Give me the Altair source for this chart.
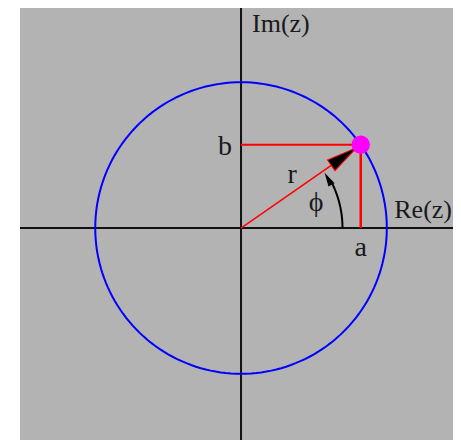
import numpy as np
import pandas as pd
import altair as alt

# values (unit = modulus of z)
a_val = [0.82]
b_val = [0.57]

x_domain = [-1.514, 1.452]
y_domain = [-1.452, 1.507]

label_text = ["Im(z)", "Re(z)", "b", "a", "r", "\u03d5"]
label_x = [0.0, 1.452, 0.0, 0.82, 0.35, 0.515]
label_y = [1.507, 0.0, 0.57, 0.0, 0.31, 0.17]
label_dx = [11, -1, -9, 0, 0, 0]
label_dy = [24, -10, 10, 28, 0, 8]
label_align = ["left", "right", "right", "center", "center", "center"]
label_size = [26, 26, 28, 28, 28, 28]

FONT = "Liberation Serif"
W, H = 433, 432

pt = pd.DataFrame({"a": a_val, "b": b_val})
r_mod = float(np.hypot(a_val[0], b_val[0]))

xs = alt.Scale(domain=x_domain, nice=False, zero=False)
ys = alt.Scale(domain=y_domain, nice=False, zero=False)

def X(f, t="Q"):
    return alt.X(f"{f}:{t}", scale=xs, axis=None)

def Y(f, t="Q"):
    return alt.Y(f"{f}:{t}", scale=ys, axis=None)

base = alt.Chart(pt).transform_calculate(z="0")

# coordinate axes
xaxis = base.mark_rule(color="#111111", strokeWidth=2).encode(y=Y("z"))
yaxis = base.mark_rule(color="#111111", strokeWidth=2).encode(x=X("z"))

# circle |z| = r  (angle parameter only)
t_circle = pd.DataFrame({"t": list(range(0, 362, 2))})
circle = (
    alt.Chart(t_circle)
    .transform_calculate(
        cx=f"{r_mod}*cos(datum.t*PI/180)", cy=f"{r_mod}*sin(datum.t*PI/180)"
    )
    .mark_line(color="#0000ff", strokeWidth=2)
    .encode(x=X("cx"), y=Y("cy"), order="t:Q")
)

# red projections
hline = base.mark_rule(color="#ff0000", strokeWidth=2).encode(x=X("z"), x2="a:Q", y=Y("b"))
vline = base.mark_rule(color="#ff0000", strokeWidth=2.5).encode(x=X("a"), y=Y("z"), y2="b:Q")
radius = base.mark_rule(color="#ff0000", strokeWidth=1.5).encode(
    x=X("z"), y=Y("z"), x2="a:Q", y2="b:Q"
)

# arrowhead on radius vector
arrow = (
    alt.Chart(pt)
    .transform_calculate(
        ax="0.86*datum.a", ay="0.86*datum.b",
        ang="360 - atan2(datum.b, datum.a)*180/PI",
    )
    .mark_point(
        shape="M1,0 L-1,-0.42 L-1,0.42 Z", filled=True, fill="black",
        stroke="#ff0000", strokeWidth=1, size=961, opacity=1,
    )
    .encode(x=X("ax"), y=Y("ay"), angle=alt.Angle("ang:Q", scale=None))
)

# phi arc
t_arc = pd.DataFrame({"t": list(range(0, 29))})
arc = (
    alt.Chart(t_arc)
    .transform_calculate(
        px="0.695*cos(datum.t*PI/180)", py="0.695*sin(datum.t*PI/180)"
    )
    .mark_line(color="black", strokeWidth=2)
    .encode(x=X("px"), y=Y("py"), order="t:Q")
)
arc_head = (
    alt.Chart(pd.DataFrame({"t": [29.5]}))
    .transform_calculate(
        px="0.685*cos(datum.t*PI/180)", py="0.685*sin(datum.t*PI/180)",
        ang="360 - (datum.t + 90)",
    )
    .mark_point(shape="M1,0 L-1,-0.5 L-1,0.5 Z", filled=True, fill="black",
                size=196, opacity=1, strokeWidth=0)
    .encode(x=X("px"), y=Y("py"), angle=alt.Angle("ang:Q", scale=None))
)

# point z
dot = alt.Chart(pt).mark_circle(color="#ff00ff", size=340, opacity=1).encode(x=X("a"), y=Y("b"))

labels_df = pd.DataFrame({"text": label_text, "x": label_x, "y": label_y})
label_layers = []
for i in range(len(labels_df)):
    row = labels_df.iloc[[i]]
    label_layers.append(
        alt.Chart(row)
        .mark_text(
            font=FONT, fontSize=label_size[i], color="#1a1a1a", baseline="alphabetic",
            align=label_align[i], dx=label_dx[i], dy=label_dy[i],
        )
        .encode(x=X("x"), y=Y("y"), text="text:N")
    )

chart = (
    alt.layer(xaxis, yaxis, circle, hline, vline, radius, arc, arc_head, arrow, dot, *label_layers)
    .properties(
        width=W, height=H,
        autosize=alt.AutoSizeParams(type="none"),
        padding={"left": 12, "top": 0, "right": 0, "bottom": 0},
        background="white",
    )
    .configure_view(fill="#b3b3b3", stroke=None)
)

chart.save("out.html", embed_options={"renderer": "svg", "actions": False})
